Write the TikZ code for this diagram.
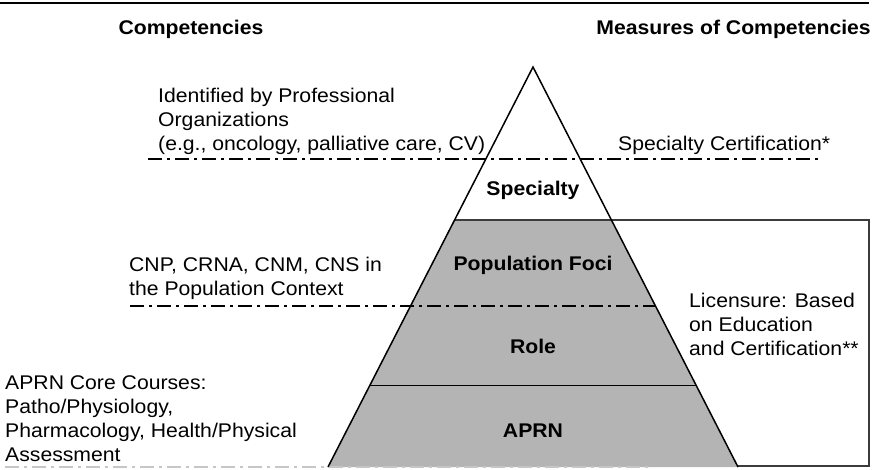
\documentclass[tikz,border=0pt]{standalone}
\usepackage{fontspec}
\setmainfont{Liberation Sans}[FakeStretch=1.07]
\definecolor{pyramidgray}{RGB}{180,180,180}
\definecolor{framegray}{RGB}{60,60,60}

\begin{document}
\begin{tikzpicture}[x=1pt, y=-1pt,
  every node/.style={font=\fontsize{19.8}{24}\selectfont, inner sep=0pt},
  tier/.style={font=\fontsize{19.8}{24}\selectfont\bfseries, anchor=base},
  sidetext/.style={align=left, anchor=base west},
  levelline/.style={line width=1.2pt, dash pattern=on 14pt off 5pt on 3pt off 5pt}]

  % --- パラメータ定義 ---
  % 頂点 (533,67), 底辺 y = 467, 半幅 = 0.5125*(y-67)
  % y=220: 454.6 .. 611.4 / y=306: 410.5 .. 655.5 / y=385: 370 .. 696
  \useasboundingbox (0,0) rectangle (879,469);
  \coordinate (apex) at (533,67);
  \coordinate (baseL) at (328,467);
  \coordinate (baseR) at (738,467);

  % 1. 灰色の領域（Population Foci 以下）
  \fill[pyramidgray] (454.6,220) -- (611.4,220) -- (baseR) -- (baseL) -- cycle;

  % 2. 見出しと上の罫線
  \draw[line width=1.5pt] (0,3) -- (869,3);
  \node[tier] (compHead) at (191,34) {Competencies};
  \node[tier, anchor=base east] (measHead) at (871,34) {Measures of Competencies};

  % 3. 区切りの一点鎖線
  \draw[levelline, gray!45] (5,467) -- (653,467);
  \draw[levelline] (148,159) -- (820,159);
  \draw[levelline] (130,306) -- (655.5,306);

  % 4. 右側の枠と Role / APRN の境界
  \draw[framegray, line width=1.2pt] (454.6,220) -- (869,220) -- (869,466) -- (738,466);
  \draw[line width=1pt] (370,385) -- (696,385);

  % 5. 三角形
  \draw[line width=1.5pt] (baseL) -- (apex) -- (baseR);

  % 6. 各段のラベル
  \node[tier] (specialty) at (533,195) {Specialty};
  \node[tier] (popFoci) at (533,270) {Population Foci};
  \node[tier] (role) at (533,353) {Role};
  \node[tier] (aprn) at (533,437) {APRN};

  % 7. 左右の説明文（複数行は最終行のベースラインで置く）
  \node[sidetext] (profOrg) at (158,150)
    {Identified by Professional\\Organizations\\(e.g., oncology, palliative care, CV)};
  \node[sidetext] (specCert) at (618,150) {Specialty Certification*};
  \node[sidetext] (popContext) at (129,295) {CNP, CRNA, CNM, CNS in\\the Population Context};
  \node[sidetext] (licensure) at (689,355) {Licensure: Based\\on Education\\and Certification**};
  \node[sidetext] (coreCourses) at (5,461)
    {APRN Core Courses:\\Patho/Physiology,\\Pharmacology, Health/Physical\\Assessment};

\end{tikzpicture}
\end{document}
